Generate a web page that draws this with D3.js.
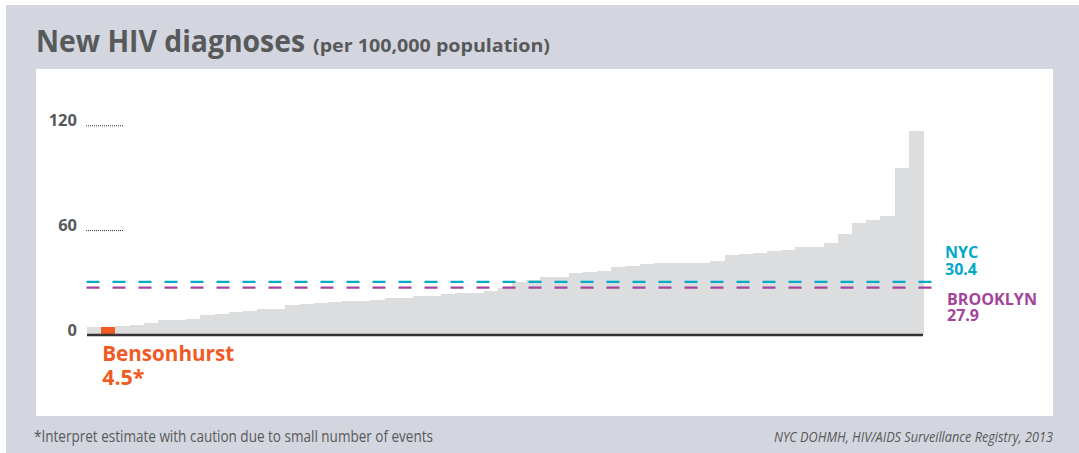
<!DOCTYPE html>
<html><head><meta charset="utf-8">
<script src="https://cdn.jsdelivr.net/npm/d3@7"></script>
<style>body{margin:0;background:#fff;} svg{display:block;}</style>
</head><body>
<div id="chart"></div>
<script>
// Data: new HIV diagnoses per 100,000 population by community district, sorted ascending
const values = [4.4, 4.5, 5.0, 5.6, 6.7, 8.4, 8.4, 9.0, 11.3, 11.9, 13.0, 13.6, 14.8, 14.8, 17.1, 17.6, 18.2, 18.8, 19.4, 19.4,
  19.9, 21.0, 21.0, 22.2, 22.2, 23.3, 23.9, 23.9, 25.0, 26.8, 30.2, 31.3, 33.0, 33.0, 35.3, 35.9, 36.5, 38.8, 39.4, 40.5,
  41.1, 41.1, 41.1, 41.1, 42.2, 45.7, 46.2, 46.8, 48.0, 48.5, 50.3, 50.3, 52.6, 57.7, 64.0, 65.7, 68.0, 95.5, 116.7];
const categories = values.map((v, i) => i === 1 ? "Bensonhurst" : "District " + (i + 1));
const highlight = "Bensonhurst";
const highlightLabel = ["Bensonhurst", "4.5*"];
const refNames = ["NYC", "BROOKLYN"];
const refValues = [30.4, 27.9];
const tickValues = [0, 60, 120];
const tickLabels = ["0", "60", "120"];

const W = 1079, H = 453;
const svg = d3.select("#chart").append("svg").attr("width", W).attr("height", H);
const font = "'Open Sans', 'Noto Sans', sans-serif";
const textCol = "#58595b";

svg.append("rect").attr("x", 6).attr("y", 5).attr("width", W - 6).attr("height", H - 5).attr("fill", "#d3d6de");
svg.append("rect").attr("x", 36).attr("y", 69).attr("width", 1017).attr("height", 347).attr("fill", "#ffffff");

// Title
svg.append("text").attr("x", 36).attr("y", 52).attr("font-family", font).attr("font-weight", 700)
  .attr("font-size", 31).attr("fill", textCol).attr("textLength", 269).attr("lengthAdjust", "spacingAndGlyphs")
  .text("New HIV diagnoses");
svg.append("text").attr("x", 313).attr("y", 52).attr("font-family", font).attr("font-weight", 700)
  .attr("font-size", 18.5).attr("fill", textCol).attr("textLength", 237).attr("lengthAdjust", "spacingAndGlyphs")
  .text("(per 100,000 population)");

const x = d3.scaleBand().domain(categories).range([87, 923]).padding(0);
const y = d3.scaleLinear().domain([0, 120]).range([335, 125.5]);

// Y ticks: label + dotted line
const ticks = svg.append("g");
tickValues.forEach((t, i) => {
  ticks.append("text").attr("x", 77).attr("y", y(t) + 0.5).attr("text-anchor", "end")
    .attr("font-family", font).attr("font-weight", 700).attr("font-size", 16.5).attr("fill", textCol)
    .text(tickLabels[i]);
  if (t !== 0) {
    ticks.append("line").attr("x1", 86).attr("x2", 123).attr("y1", y(t) + 0.3).attr("y2", y(t) + 0.3)
      .attr("stroke", "#333").attr("stroke-width", 1).attr("stroke-dasharray", "1,1");
  }
});

// Bars
svg.append("g").attr("shape-rendering", "crispEdges").selectAll("rect").data(values).join("rect")
  .attr("x", (d, i) => x(categories[i]))
  .attr("width", x.bandwidth() + 0.5)
  .attr("y", d => y(d))
  .attr("height", d => y(0) - y(d))
  .attr("fill", (d, i) => categories[i] === highlight ? "#f15a24" : "#dcdddf");

// Baseline
svg.append("line").attr("x1", 87).attr("x2", 923).attr("y1", y(0)).attr("y2", y(0))
  .attr("stroke", "#333").attr("stroke-width", 2.5);

// Reference lines
const refCols = ["#00aac8", "#a3449a"];
const refOffsets = [0, 1.4];
refValues.forEach((v, i) => {
  svg.append("line").attr("x1", 86.5).attr("x2", 941).attr("y1", y(v) + refOffsets[i]).attr("y2", y(v) + refOffsets[i])
    .attr("stroke", refCols[i]).attr("stroke-width", 2.2).attr("stroke-dasharray", "13,13");
});
const refLabelY = [[258, 275], [305, 321]];
const refLabelX = [945, 947];
refValues.forEach((v, i) => {
  const t = svg.append("text").attr("x", refLabelX[i]).attr("y", refLabelY[i][0]).attr("font-family", font).attr("font-weight", 700)
    .attr("font-size", 16).attr("fill", refCols[i]).text(refNames[i]);
  if (refNames[i].length > 4) t.attr("textLength", 90).attr("lengthAdjust", "spacingAndGlyphs");
  svg.append("text").attr("x", refLabelX[i]).attr("y", refLabelY[i][1]).attr("font-family", font).attr("font-weight", 700)
    .attr("font-size", 16).attr("fill", refCols[i]).text(v.toFixed(1));
});

// Highlight label
const hx = x(highlight) + 1;
svg.append("text").attr("x", hx).attr("y", 361).attr("font-family", font).attr("font-weight", 700)
  .attr("font-size", 21.5).attr("fill", "#f15a24").attr("textLength", 132).attr("lengthAdjust", "spacingAndGlyphs")
  .text(highlightLabel[0]);
svg.append("text").attr("x", hx).attr("y", 385).attr("font-family", font).attr("font-weight", 700)
  .attr("font-size", 21.5).attr("fill", "#f15a24").text(highlightLabel[1]);

// Footer
svg.append("text").attr("x", 34).attr("y", 442).attr("font-family", font).attr("font-size", 15.5)
  .attr("fill", textCol).attr("textLength", 399).attr("lengthAdjust", "spacingAndGlyphs")
  .text("*Interpret estimate with caution due to small number of events");
svg.append("text").attr("x", 1053).attr("y", 442).attr("text-anchor", "end").attr("font-family", font)
  .attr("font-style", "italic").attr("font-size", 14).attr("fill", textCol)
  .attr("textLength", 279).attr("lengthAdjust", "spacingAndGlyphs")
  .text("NYC DOHMH, HIV/AIDS Surveillance Registry, 2013");
</script>
</body></html>
